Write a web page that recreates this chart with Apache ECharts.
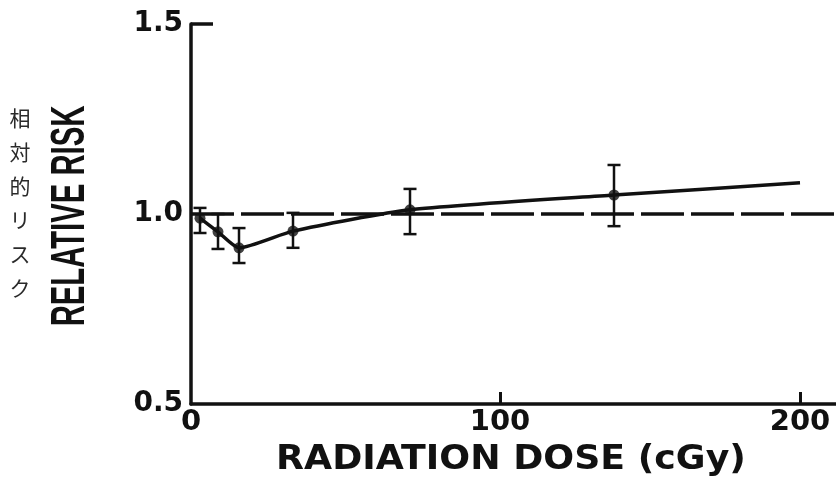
<!DOCTYPE html>
<html>
<head>
<meta charset="utf-8">
<script src="https://cdn.jsdelivr.net/npm/echarts@6/dist/echarts.min.js"></script>
<style>
  html, body { margin: 0; padding: 0; background: #fff; }
  #chart { width: 836px; height: 477px; }
</style>
</head>
<body>
<div id="chart"></div>
<script>
// dose (cGy) and relative risk
var doses = [0, 6, 13, 31, 70, 138];
var risk = [0.989, 0.953, 0.911, 0.955, 1.011, 1.05];
var riskLow = [0.95, 0.908, 0.871, 0.911, 0.947, 0.968];
var riskHigh = [1.016, 1.0, 0.963, 1.003, 1.066, 1.129];

// fitted curve
var fitDose = [0, 6, 13, 31, 70, 138, 200];
var fitRisk = [0.989, 0.953, 0.911, 0.955, 1.011, 1.05, 1.082];

var xTickLabels = [-3, 100, 200];
var yTicks = [0.5, 1.0, 1.5];

var ink = '#111';

var chartDom = document.getElementById('chart');
var myChart = echarts.init(chartDom);

var points = doses.map(function (d, i) { return [d, risk[i]]; });
var bars = doses.map(function (d, i) { return [d, riskLow[i], riskHigh[i]]; });
var fit = fitDose.map(function (d, i) { return [d, fitRisk[i]]; });

var option = {
  backgroundColor: '#fff',
  animation: false,
  grid: { left: 191, right: 0, top: 24, bottom: 73 },
  xAxis: {
    type: 'value',
    min: -3,
    max: 212,
    splitLine: { show: false },
    axisLine: { onZero: false, lineStyle: { color: ink, width: 3.5 } },
    axisTick: { inside: true, length: 12, customValues: [100, 200], lineStyle: { color: ink, width: 3 } },
    axisLabel: {
      customValues: xTickLabels,
      margin: 4,
      color: ink,
      fontFamily: 'DejaVu Sans',
      fontWeight: 'bold',
      fontSize: 29,
      formatter: function (v) { return v < 0 ? '0' : String(v); }
    }
  },
  yAxis: {
    type: 'value',
    min: 0.5,
    max: 1.5,
    interval: 0.5,
    splitLine: { show: false },
    axisLine: { onZero: false, lineStyle: { color: ink, width: 3.5 } },
    axisTick: { inside: true, length: 22, customValues: [1.5], lineStyle: { color: ink, width: 3.5 } },
    axisLabel: {
      customValues: yTicks,
      margin: 8,
      color: ink,
      fontFamily: 'DejaVu Sans',
      fontWeight: 'bold',
      fontSize: 28,
      formatter: function (v) { return v.toFixed(1); }
    }
  },
  graphic: [
    {
      type: 'text',
      x: 511,
      y: 460,
      scaleX: 1.1,
      style: {
        text: 'RADIATION DOSE (cGy)',
        fill: ink,
        font: 'bold 33px "DejaVu Sans"',
        textAlign: 'center',
        textVerticalAlign: 'middle'
      }
    },
    {
      type: 'text',
      x: 71,
      y: 216,
      rotation: Math.PI / 2,
      scaleX: 0.61,
      style: {
        text: 'RELATIVE RISK',
        fill: ink,
        font: 'bold 48px "Liberation Sans"',
        textAlign: 'center',
        textVerticalAlign: 'middle'
      }
    },
    {
      type: 'text',
      x: 20,
      y: 101,
      style: {
        text: '相\n対\n的\nリ\nス\nク',
        fill: '#2a2a2a',
        font: '21px "Noto Sans CJK JP"',
        lineHeight: 34,
        textAlign: 'center',
        textVerticalAlign: 'top'
      }
    }
  ],
  series: [
    {
      name: 'baseline',
      type: 'line',
      data: [[-3, 1.0], [212, 1.0]],
      symbol: 'none',
      silent: true,
      z: 1,
      lineStyle: { color: ink, width: 3.5, type: [43, 7] }
    },
    {
      name: 'error',
      type: 'custom',
      z: 3,
      data: bars,
      renderItem: function (params, api) {
        var x = api.value(0);
        var lo = api.coord([x, api.value(1)]);
        var hi = api.coord([x, api.value(2)]);
        var half = 6.5;
        var st = { stroke: ink, lineWidth: 2.5 };
        return {
          type: 'group',
          children: [
            { type: 'line', shape: { x1: lo[0], y1: lo[1], x2: hi[0], y2: hi[1] }, style: st },
            { type: 'line', shape: { x1: lo[0] - half, y1: lo[1], x2: lo[0] + half, y2: lo[1] }, style: st },
            { type: 'line', shape: { x1: hi[0] - half, y1: hi[1], x2: hi[0] + half, y2: hi[1] }, style: st }
          ]
        };
      }
    },
    {
      name: 'fit',
      type: 'line',
      data: fit,
      symbol: 'none',
      smooth: 0.2,
      z: 4,
      lineStyle: { color: ink, width: 3.5 }
    },
    {
      name: 'risk',
      type: 'scatter',
      data: points,
      symbol: 'circle',
      symbolSize: 11,
      z: 5,
      itemStyle: { color: ink }
    }
  ]
};

option && myChart.setOption(option);
</script>
</body>
</html>
